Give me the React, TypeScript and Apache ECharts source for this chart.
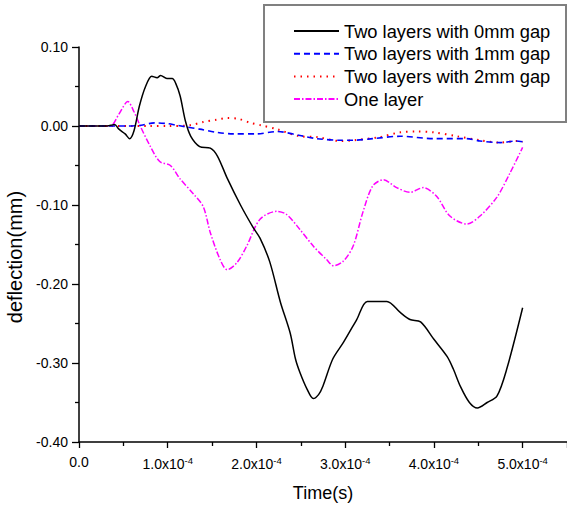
import React, { useEffect, useRef } from "react";
import * as echarts from "echarts";

// time values in units of 1e-4 s
const T0 = [0, 0.3, 0.36, 0.4, 0.45, 0.52, 0.57, 0.62, 0.68, 0.75, 0.82, 0.88, 0.92, 0.99, 1.05, 1.09, 1.14, 1.2, 1.26, 1.36, 1.48, 1.56, 1.67, 1.82, 1.96, 2.04, 2.15, 2.27, 2.38, 2.44, 2.49, 2.57, 2.64, 2.7, 2.75, 2.86, 2.98, 3.13, 3.25, 3.47, 3.62, 3.73, 3.85, 4.0, 4.15, 4.22, 4.3, 4.4, 4.49, 4.6, 4.71, 4.82, 5.0];
const V0 = [0, 0, 0.001, 0.002, -0.004, -0.01, -0.016, -0.006, 0.025, 0.05, 0.063, 0.061, 0.064, 0.06, 0.06, 0.054, 0.038, 0.006, -0.013, -0.026, -0.028, -0.038, -0.066, -0.1, -0.128, -0.142, -0.172, -0.223, -0.262, -0.295, -0.312, -0.333, -0.345, -0.34, -0.329, -0.295, -0.274, -0.245, -0.222, -0.222, -0.236, -0.245, -0.248, -0.27, -0.292, -0.308, -0.33, -0.35, -0.357, -0.35, -0.342, -0.308, -0.23];

const T1 = [0, 0.55, 0.7, 0.85, 1.0, 1.1, 1.2, 1.36, 1.55, 1.74, 2.0, 2.23, 2.49, 2.68, 2.94, 3.09, 3.31, 3.62, 4.0, 4.37, 4.52, 4.75, 4.93, 5.0];
const V1 = [0, 0, 0.001, 0.004, 0.003, 0.001, -0.001, -0.004, -0.008, -0.01, -0.01, -0.007, -0.012, -0.016, -0.018, -0.018, -0.016, -0.013, -0.016, -0.016, -0.019, -0.021, -0.019, -0.02];

const T2 = [0, 0.8, 1.0, 1.25, 1.4, 1.55, 1.67, 1.8, 1.93, 2.05, 2.23, 2.49, 2.68, 2.94, 3.1, 3.39, 3.62, 3.8, 4.0, 4.26, 4.52, 4.75, 4.93, 5.0];
const V2 = [0, 0, 0, 0.001, 0.005, 0.008, 0.01, 0.009, 0.004, 0.001, -0.004, -0.013, -0.014, -0.019, -0.018, -0.014, -0.008, -0.007, -0.008, -0.013, -0.018, -0.021, -0.019, -0.02];

const T3 = [0, 0.35, 0.45, 0.55, 0.62, 0.69, 0.8, 0.91, 1.03, 1.14, 1.29, 1.4, 1.48, 1.59, 1.67, 1.78, 1.89, 2.04, 2.23, 2.34, 2.49, 2.64, 2.79, 2.87, 2.98, 3.09, 3.2, 3.31, 3.43, 3.58, 3.73, 3.88, 4.03, 4.18, 4.37, 4.52, 4.71, 4.86, 5.0];
const V3 = [0, 0, 0.015, 0.031, 0.018, 0, -0.025, -0.045, -0.05, -0.067, -0.086, -0.102, -0.135, -0.169, -0.182, -0.173, -0.152, -0.118, -0.108, -0.112, -0.131, -0.152, -0.169, -0.177, -0.171, -0.152, -0.109, -0.076, -0.068, -0.078, -0.084, -0.078, -0.089, -0.114, -0.124, -0.114, -0.09, -0.059, -0.027];

const NAMES = [
  "Two layers with 0mm gap",
  "Two layers with 1mm gap",
  "Two layers with 2mm gap",
  "One layer",
];
const COLORS = ["#000000", "#0000ff", "#ff0000", "#ff00ff"];
const X_TICK_LABELS = ["0.0", "1.0", "2.0", "3.0", "4.0", "5.0"];
const X_TITLE = "Time(s)";
const Y_TITLE = "deflection(mm)";

const FONT = "'Liberation Sans', Arial, sans-serif";

const zip = (t: number[], v: number[]) => t.map((x, i) => [x, v[i]]);

export default function App() {
  const ref = useRef<HTMLDivElement>(null);
  useEffect(() => {
    if (!ref.current) return;
    const chart = echarts.init(ref.current, null, { renderer: "svg" });
    const data = [zip(T0, V0), zip(T1, V1), zip(T2, V2), zip(T3, V3)];
    const lineTypes: any[] = ["solid", [6, 4], [1.5, 5], [6, 2, 1.5, 2]];
    const widths = [1.5, 1.6, 2, 1.5];
    chart.setOption({
      animation: false,
      backgroundColor: "#ffffff",
      textStyle: { fontFamily: FONT },
      grid: { left: 79, top: 47, right: 0, bottom: 68, containLabel: false },
      xAxis: {
        type: "value",
        min: 0,
        max: 5.5,
        interval: 1,
        name: X_TITLE,
        nameLocation: "middle",
        nameGap: 42,
        nameTextStyle: { fontSize: 18, color: "#000", fontFamily: FONT },
        axisLine: { show: true, onZero: false, lineStyle: { color: "#000", width: 1.5 } },
        axisTick: { show: true, inside: false, length: 6, lineStyle: { color: "#000", width: 1.3 } },
        minorTick: { show: true, splitNumber: 2, length: 4, lineStyle: { color: "#000", width: 1.3 } },
        splitLine: { show: false },
        axisLabel: {
          margin: 13,
          showMaxLabel: false,
          formatter: (v: number) => {
            const i = Math.round(v);
            if (Math.abs(v - i) > 1e-6 || i > 5) return "";
            if (i === 0) return `{b|${X_TICK_LABELS[0]}}`;
            return `{b|${X_TICK_LABELS[i]}x10}{s|-4}`;
          },
          rich: {
            b: { fontSize: 14, color: "#000", fontFamily: FONT },
            s: { fontSize: 9.5, color: "#000", fontFamily: FONT, padding: [0, 0, 8, 0] },
          },
        },
      },
      yAxis: {
        type: "value",
        min: -0.4,
        max: 0.1,
        interval: 0.1,
        axisLine: { show: true, lineStyle: { color: "#000", width: 1.5 } },
        axisTick: { show: true, inside: false, length: 7, lineStyle: { color: "#000", width: 1.3 } },
        minorTick: { show: true, splitNumber: 2, length: 4, lineStyle: { color: "#000", width: 1.3 } },
        splitLine: { show: false },
        axisLabel: {
          margin: 11,
          fontSize: 14,
          color: "#000",
          fontFamily: FONT,
          formatter: (v: number) => v.toFixed(2),
        },
      },
      legend: {
        left: 264,
        top: 5,
        orient: "vertical",
        align: "left",
        padding: [17, 10, 14, 29],
        itemGap: 4.7,
        itemWidth: 45,
        itemHeight: 10,
        itemStyle: { opacity: 0 },
        textStyle: { fontSize: 18.3, color: "#000", fontFamily: FONT, lineHeight: 18 },
        data: NAMES,
        z: 10,
      },
      graphic: [
        {
          type: "rect",
          z: 5,
          shape: { x: 264, y: 5, width: 302, height: 117 },
          style: { fill: "#ffffff", stroke: "#808080", lineWidth: 2 },
        },
        {
          type: "text",
          x: 15,
          y: 257,
          rotation: Math.PI / 2,
          style: {
            text: Y_TITLE,
            fontSize: 20,
            fill: "#000",
            fontFamily: FONT,
            textAlign: "center",
            textVerticalAlign: "middle",
          },
        },
      ],
      series: NAMES.map((name, i) => ({
        name,
        type: "line",
        data: data[i],
        showSymbol: false,
        symbol: "none",
        smooth: 0.3,
        color: COLORS[i],
        lineStyle: { color: COLORS[i], width: widths[i], type: lineTypes[i] },
        z: 4 - i,
      })),
    });
    return () => chart.dispose();
  }, []);
  return <div ref={ref} style={{ width: 567, height: 510, position: "absolute", left: 0, top: 0 }} />;
}
